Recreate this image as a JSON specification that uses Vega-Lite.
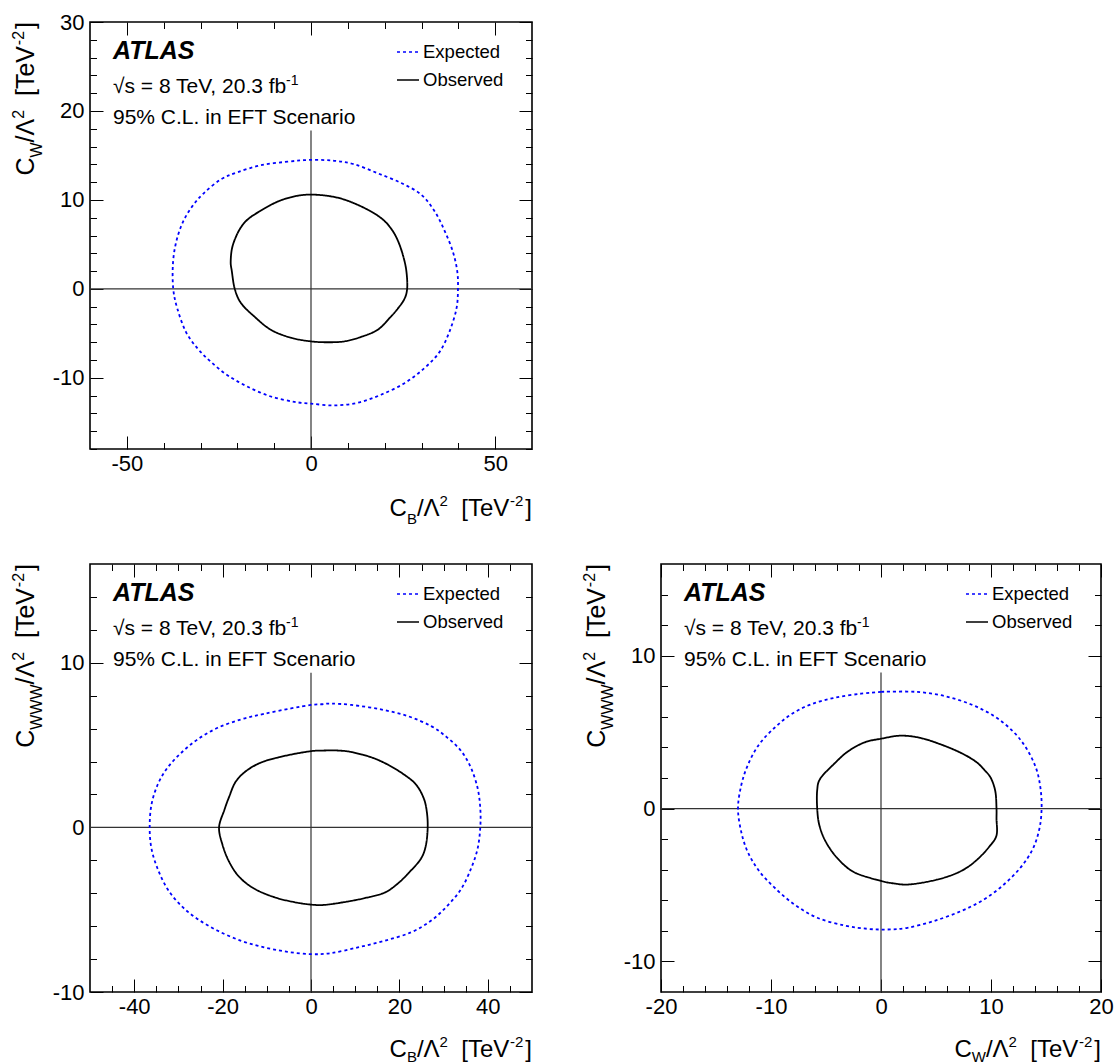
{
  "$schema": "https://vega.github.io/schema/vega-lite/v6.json",
  "background": "white",
  "padding": {"left": 10, "top": 10, "right": 5, "bottom": 5},
  "config": {
    "view": {"stroke": "#000", "strokeWidth": 1.6},
    "axis": {"domain": false, "grid": false, "tickColor": "#000", "tickWidth": 1, "labelFont": "Liberation Sans", "labelColor": "#000", "labelFontSize": 22, "labelFlush": false, "labelOverlap": false, "labelBound": false},
    "text": {"font": "Liberation Sans", "color": "#000", "align": "left", "baseline": "alphabetic"}
  },
  "spacing": 115,
  "bounds": "flush",
  "resolve": {"scale": {"x": "independent", "y": "independent", "color": "independent", "strokeDash": "independent"}, "legend": {"color": "independent", "strokeDash": "independent"}},
  "vconcat": [
    {
      "width": 442, "height": 427,
      "data": {"values": [{}]},
      "layer": [
        {"mark": {"type": "rule", "color": "#333", "strokeWidth": 1.2},
         "encoding": {
           "x": {"datum": 0, "type": "quantitative", "scale": {"domain": [-60, 60], "nice": false, "zero": false}, "axis": {"orient": "bottom", "values": [-40,-30,-20,-10,10,20,30,40], "tickSize": -6.5, "labels": false, "title": null}},
           "y": {"datum": 17.8, "type": "quantitative", "scale": {"domain": [-18, 30], "nice": false, "zero": false}, "axis": {"orient": "left", "values": [-18,-16,-14,-12,-8,-6,-4,-2,2,4,6,8,12,14,16,18,22,24,26,28], "tickSize": -6.5, "labels": false, "title": null}},
           "y2": {"datum": -18}
         }},
        {"mark": {"type": "rule", "color": "#333", "strokeWidth": 1.2},
         "encoding": {
           "x": {"datum": -60, "type": "quantitative", "axis": {"orient": "top", "values": [-50,0,50], "tickSize": -13, "labels": false, "title": null}},
           "x2": {"datum": 60},
           "y": {"datum": 0, "type": "quantitative", "axis": {"orient": "right", "values": [-10,0,10,20,30], "tickSize": -13, "labels": false, "title": null}}
         }},
        {"data": {"values": [
          {"s":"Expected","i":0,"x":0,"y":14.5},{"s":"Expected","i":1,"x":-6.3,"y":14.3},{"s":"Expected","i":2,"x":-13.6,"y":13.9},{"s":"Expected","i":3,"x":-20.0,"y":13.1},{"s":"Expected","i":4,"x":-24.5,"y":12.3},{"s":"Expected","i":5,"x":-29.0,"y":10.8},{"s":"Expected","i":6,"x":-32.2,"y":9.3},{"s":"Expected","i":7,"x":-34.9,"y":7.4},{"s":"Expected","i":8,"x":-36.7,"y":5.1},{"s":"Expected","i":9,"x":-37.5,"y":2.7},{"s":"Expected","i":10,"x":-37.4,"y":0},{"s":"Expected","i":11,"x":-36.3,"y":-2.2},{"s":"Expected","i":12,"x":-34.0,"y":-4.8},{"s":"Expected","i":13,"x":-30.8,"y":-6.7},{"s":"Expected","i":14,"x":-27.2,"y":-8.2},{"s":"Expected","i":15,"x":-22.7,"y":-9.7},{"s":"Expected","i":16,"x":-17.2,"y":-11.0},{"s":"Expected","i":17,"x":-10.9,"y":-12.1},{"s":"Expected","i":18,"x":-4.5,"y":-12.7},{"s":"Expected","i":19,"x":0,"y":-12.9},{"s":"Expected","i":20,"x":6.3,"y":-13.1},{"s":"Expected","i":21,"x":12.7,"y":-12.8},{"s":"Expected","i":22,"x":19.0,"y":-11.9},{"s":"Expected","i":23,"x":25.4,"y":-10.6},{"s":"Expected","i":24,"x":30.8,"y":-8.9},{"s":"Expected","i":25,"x":34.9,"y":-7.1},{"s":"Expected","i":26,"x":37.6,"y":-4.8},{"s":"Expected","i":27,"x":39.5,"y":-2.2},{"s":"Expected","i":28,"x":39.9,"y":0},{"s":"Expected","i":29,"x":39.7,"y":2.0},{"s":"Expected","i":30,"x":38.5,"y":4.2},{"s":"Expected","i":31,"x":36.3,"y":6.5},{"s":"Expected","i":32,"x":33.6,"y":8.7},{"s":"Expected","i":33,"x":29.9,"y":10.6},{"s":"Expected","i":34,"x":24.5,"y":11.9},{"s":"Expected","i":35,"x":18.1,"y":13.0},{"s":"Expected","i":36,"x":11.8,"y":14.0},{"s":"Expected","i":37,"x":6.3,"y":14.4},
          {"s":"Observed","i":0,"x":0,"y":10.6},{"s":"Observed","i":1,"x":5.4,"y":10.4},{"s":"Observed","i":2,"x":10.0,"y":9.9},{"s":"Observed","i":3,"x":15.4,"y":8.9},{"s":"Observed","i":4,"x":19.5,"y":7.8},{"s":"Observed","i":5,"x":22.2,"y":6.5},{"s":"Observed","i":6,"x":24.0,"y":5.0},{"s":"Observed","i":7,"x":25.4,"y":3.1},{"s":"Observed","i":8,"x":26.0,"y":1.6},{"s":"Observed","i":9,"x":26.1,"y":0},{"s":"Observed","i":10,"x":25.4,"y":-1.1},{"s":"Observed","i":11,"x":23.6,"y":-2.2},{"s":"Observed","i":12,"x":21.3,"y":-3.3},{"s":"Observed","i":13,"x":18.1,"y":-4.6},{"s":"Observed","i":14,"x":13.6,"y":-5.4},{"s":"Observed","i":15,"x":9.1,"y":-5.9},{"s":"Observed","i":16,"x":4.5,"y":-6.0},{"s":"Observed","i":17,"x":0,"y":-5.9},{"s":"Observed","i":18,"x":-5.4,"y":-5.5},{"s":"Observed","i":19,"x":-10.9,"y":-4.6},{"s":"Observed","i":20,"x":-15.4,"y":-3.1},{"s":"Observed","i":21,"x":-19.0,"y":-1.6},{"s":"Observed","i":22,"x":-20.7,"y":0},{"s":"Observed","i":23,"x":-21.5,"y":2.0},{"s":"Observed","i":24,"x":-21.8,"y":3.1},{"s":"Observed","i":25,"x":-21.3,"y":4.8},{"s":"Observed","i":26,"x":-19.5,"y":6.6},{"s":"Observed","i":27,"x":-17.2,"y":7.8},{"s":"Observed","i":28,"x":-13.6,"y":8.8},{"s":"Observed","i":29,"x":-9.1,"y":9.8},{"s":"Observed","i":30,"x":-4.5,"y":10.4}
         ]},
         "mark": {"type": "line", "strokeWidth": 1.8, "interpolate": "cardinal-closed"},
         "encoding": {
           "x": {"field": "x", "type": "quantitative", "axis": {"orient": "bottom", "values": [-50,0,50], "tickSize": -13, "labelPadding": 17.5, "labelExpr": "'' + datum.value", "title": null}},
           "y": {"field": "y", "type": "quantitative", "axis": {"orient": "left", "values": [-10,0,10,20,30], "tickSize": -13, "labelPadding": 19, "labelExpr": "'' + datum.value", "title": null}},
           "order": {"field": "i", "type": "quantitative"},
           "color": {"field": "s", "type": "nominal", "scale": {"domain": ["Expected","Observed"], "range": ["#0000ff","#000000"]}, "legend": {"orient": "none", "legendX": 306, "legendY": 18, "title": null, "labelFont": "Liberation Sans", "labelFontSize": 18.5, "labelColor": "#000", "symbolSize": 484, "symbolStrokeWidth": 1.6, "labelOffset": 3, "rowPadding": 6, "padding": 0, "symbolType": "stroke"}},
           "strokeDash": {"field": "s", "type": "nominal", "scale": {"domain": ["Expected","Observed"], "range": [[3,3],[1,0]]}, "legend": {"orient": "none", "legendX": 306, "legendY": 18, "title": null, "labelFont": "Liberation Sans", "labelFontSize": 18.5, "labelColor": "#000", "symbolSize": 484, "symbolStrokeWidth": 1.6, "labelOffset": 3, "rowPadding": 6, "padding": 0, "symbolType": "stroke"}}
         }},
        {"mark": {"type": "text", "text": "ATLAS", "dx": 23, "dy": 37, "fontSize": 25, "fontWeight": "bold", "fontStyle": "italic"},
         "encoding": {"x": {"datum": -60, "type": "quantitative", "axis": {"orient": "top", "values": [-40,-30,-20,-10,10,20,30,40], "tickSize": -6.5, "labels": false, "title": null}}, "y": {"datum": 30, "type": "quantitative", "axis": {"orient": "right", "values": [-18,-16,-14,-12,-8,-6,-4,-2,2,4,6,8,12,14,16,18,22,24,26,28], "tickSize": -6.5, "labels": false, "title": null}}}},
        {"mark": {"type": "text", "text": "√s = 8 TeV, 20.3 fb", "dx": 23, "dy": 71, "fontSize": 21}, "encoding": {"x": {"datum": -60, "type": "quantitative", "axis": null}, "y": {"datum": 30, "type": "quantitative", "axis": null}}},
        {"mark": {"type": "text", "text": "-1", "dx": 196, "dy": 63, "fontSize": 14}, "encoding": {"x": {"datum": -60, "type": "quantitative", "axis": null}, "y": {"datum": 30, "type": "quantitative", "axis": null}}},
        {"mark": {"type": "text", "text": "95% C.L. in EFT Scenario", "dx": 23, "dy": 101.5, "fontSize": 21}, "encoding": {"x": {"datum": -60, "type": "quantitative", "axis": null}, "y": {"datum": 30, "type": "quantitative", "axis": null}}},
        {"mark": {"type": "text", "text": "C", "dx": -142.4, "dy": 67, "fontSize": 24}, "encoding": {"x": {"datum": 60, "type": "quantitative", "axis": null}, "y": {"datum": -18, "type": "quantitative", "axis": null}}},
        {"mark": {"type": "text", "text": "B", "dx": -125.1, "dy": 75, "fontSize": 15}, "encoding": {"x": {"datum": 60, "type": "quantitative", "axis": null}, "y": {"datum": -18, "type": "quantitative", "axis": null}}},
        {"mark": {"type": "text", "text": "/Λ", "dx": -115.1, "dy": 67, "fontSize": 24}, "encoding": {"x": {"datum": 60, "type": "quantitative", "axis": null}, "y": {"datum": -18, "type": "quantitative", "axis": null}}},
        {"mark": {"type": "text", "text": "2", "dx": -92.4, "dy": 57, "fontSize": 15}, "encoding": {"x": {"datum": 60, "type": "quantitative", "axis": null}, "y": {"datum": -18, "type": "quantitative", "axis": null}}},
        {"mark": {"type": "text", "text": "[TeV", "dx": -70.7, "dy": 67, "fontSize": 24}, "encoding": {"x": {"datum": 60, "type": "quantitative", "axis": null}, "y": {"datum": -18, "type": "quantitative", "axis": null}}},
        {"mark": {"type": "text", "text": "-2", "dx": -22.0, "dy": 57, "fontSize": 15}, "encoding": {"x": {"datum": 60, "type": "quantitative", "axis": null}, "y": {"datum": -18, "type": "quantitative", "axis": null}}},
        {"mark": {"type": "text", "text": "]", "dx": -6.7, "dy": 67, "fontSize": 24}, "encoding": {"x": {"datum": 60, "type": "quantitative", "axis": null}, "y": {"datum": -18, "type": "quantitative", "axis": null}}},
        {"mark": {"type": "text", "text": "C", "angle": 270, "dx": -153.6, "dy": -56, "fontSize": 25}, "encoding": {"x": {"datum": -60, "type": "quantitative", "axis": null}, "y": {"datum": 30, "type": "quantitative", "axis": null}}},
        {"mark": {"type": "text", "text": "W", "angle": 270, "dx": -135.5, "dy": -48, "fontSize": 16}, "encoding": {"x": {"datum": -60, "type": "quantitative", "axis": null}, "y": {"datum": 30, "type": "quantitative", "axis": null}}},
        {"mark": {"type": "text", "text": "/Λ", "angle": 270, "dx": -120.4, "dy": -56, "fontSize": 25}, "encoding": {"x": {"datum": -60, "type": "quantitative", "axis": null}, "y": {"datum": 30, "type": "quantitative", "axis": null}}},
        {"mark": {"type": "text", "text": "2", "angle": 270, "dx": -96.8, "dy": -66, "fontSize": 16}, "encoding": {"x": {"datum": -60, "type": "quantitative", "axis": null}, "y": {"datum": 30, "type": "quantitative", "axis": null}}},
        {"mark": {"type": "text", "text": "[TeV", "angle": 270, "dx": -74.0, "dy": -56, "fontSize": 25}, "encoding": {"x": {"datum": -60, "type": "quantitative", "axis": null}, "y": {"datum": 30, "type": "quantitative", "axis": null}}},
        {"mark": {"type": "text", "text": "-2", "angle": 270, "dx": -23.2, "dy": -66, "fontSize": 16}, "encoding": {"x": {"datum": -60, "type": "quantitative", "axis": null}, "y": {"datum": 30, "type": "quantitative", "axis": null}}},
        {"mark": {"type": "text", "text": "]", "angle": 270, "dx": -7.0, "dy": -56, "fontSize": 25}, "encoding": {"x": {"datum": -60, "type": "quantitative", "axis": null}, "y": {"datum": 30, "type": "quantitative", "axis": null}}}
      ],
      "resolve": {"axis": {"x": "independent", "y": "independent"}}
    },
    {
      "spacing": 129,
      "bounds": "flush",
      "resolve": {"scale": {"x": "independent", "y": "independent", "color": "independent", "strokeDash": "independent"}, "legend": {"color": "independent", "strokeDash": "independent"}},
      "hconcat": [
        {
          "width": 442, "height": 428,
          "data": {"values": [{}]},
          "layer": [
            {"mark": {"type": "rule", "color": "#333", "strokeWidth": 1.2},
             "encoding": {
               "x": {"datum": 0, "type": "quantitative", "scale": {"domain": [-50, 50], "nice": false, "zero": false}, "axis": {"orient": "bottom", "values": [-45,-35,-30,-25,-15,-10,-5,5,10,15,25,30,35,45], "tickSize": -6.5, "labels": false, "title": null}},
               "y": {"datum": 9.4, "type": "quantitative", "scale": {"domain": [-10, 16], "nice": false, "zero": false}, "axis": {"orient": "left", "values": [-8,-6,-4,-2,2,4,6,8,12,14], "tickSize": -6.5, "labels": false, "title": null}},
               "y2": {"datum": -10}
             }},
            {"mark": {"type": "rule", "color": "#333", "strokeWidth": 1.2},
             "encoding": {
               "x": {"datum": -50, "type": "quantitative", "axis": {"orient": "top", "values": [-40,-20,0,20,40], "tickSize": -13, "labels": false, "title": null}},
               "x2": {"datum": 50},
               "y": {"datum": 0, "type": "quantitative", "axis": {"orient": "right", "values": [-10,0,10], "tickSize": -13, "labels": false, "title": null}}
             }},
            {"data": {"values": [
              {"s":"Expected","i":0,"x":2.3,"y":7.48},{"s":"Expected","i":1,"x":0,"y":7.44},{"s":"Expected","i":2,"x":-4.5,"y":7.23},{"s":"Expected","i":3,"x":-10.6,"y":6.9},{"s":"Expected","i":4,"x":-15.8,"y":6.56},{"s":"Expected","i":5,"x":-21.1,"y":6.05},{"s":"Expected","i":6,"x":-25.7,"y":5.34},{"s":"Expected","i":7,"x":-29.4,"y":4.52},{"s":"Expected","i":8,"x":-32.5,"y":3.61},{"s":"Expected","i":9,"x":-34.7,"y":2.59},{"s":"Expected","i":10,"x":-36.1,"y":1.37},{"s":"Expected","i":11,"x":-36.5,"y":0},{"s":"Expected","i":12,"x":-36.1,"y":-1.28},{"s":"Expected","i":13,"x":-34.7,"y":-2.51},{"s":"Expected","i":14,"x":-32.5,"y":-3.73},{"s":"Expected","i":15,"x":-29.4,"y":-4.75},{"s":"Expected","i":16,"x":-25.7,"y":-5.56},{"s":"Expected","i":17,"x":-21.1,"y":-6.28},{"s":"Expected","i":18,"x":-15.8,"y":-6.89},{"s":"Expected","i":19,"x":-10.6,"y":-7.29},{"s":"Expected","i":20,"x":-5.3,"y":-7.56},{"s":"Expected","i":21,"x":0,"y":-7.7},{"s":"Expected","i":22,"x":4.5,"y":-7.64},{"s":"Expected","i":23,"x":10.6,"y":-7.29},{"s":"Expected","i":24,"x":16.6,"y":-6.89},{"s":"Expected","i":25,"x":22.6,"y":-6.38},{"s":"Expected","i":26,"x":27.2,"y":-5.66},{"s":"Expected","i":27,"x":30.9,"y":-4.75},{"s":"Expected","i":28,"x":34.0,"y":-3.73},{"s":"Expected","i":29,"x":36.2,"y":-2.51},{"s":"Expected","i":30,"x":37.7,"y":-1.28},{"s":"Expected","i":31,"x":38.3,"y":0},{"s":"Expected","i":32,"x":38.3,"y":1.16},{"s":"Expected","i":33,"x":37.7,"y":2.38},{"s":"Expected","i":34,"x":36.2,"y":3.61},{"s":"Expected","i":35,"x":34.0,"y":4.63},{"s":"Expected","i":36,"x":30.9,"y":5.44},{"s":"Expected","i":37,"x":27.2,"y":6.15},{"s":"Expected","i":38,"x":21.9,"y":6.76},{"s":"Expected","i":39,"x":15.8,"y":7.17},{"s":"Expected","i":40,"x":9.1,"y":7.44},{"s":"Expected","i":41,"x":4.5,"y":7.52},
              {"s":"Observed","i":0,"x":3.0,"y":4.67},{"s":"Observed","i":1,"x":0,"y":4.63},{"s":"Observed","i":2,"x":-5.3,"y":4.38},{"s":"Observed","i":3,"x":-10.6,"y":4.01},{"s":"Observed","i":4,"x":-14.3,"y":3.5},{"s":"Observed","i":5,"x":-17.0,"y":2.79},{"s":"Observed","i":6,"x":-18.5,"y":1.87},{"s":"Observed","i":7,"x":-19.6,"y":1.06},{"s":"Observed","i":8,"x":-20.8,"y":0},{"s":"Observed","i":9,"x":-20.0,"y":-1.08},{"s":"Observed","i":10,"x":-18.5,"y":-2.1},{"s":"Observed","i":11,"x":-16.2,"y":-3.02},{"s":"Observed","i":12,"x":-12.8,"y":-3.73},{"s":"Observed","i":13,"x":-8.3,"y":-4.24},{"s":"Observed","i":14,"x":-3.8,"y":-4.54},{"s":"Observed","i":15,"x":0,"y":-4.69},{"s":"Observed","i":16,"x":3.0,"y":-4.71},{"s":"Observed","i":17,"x":7.5,"y":-4.54},{"s":"Observed","i":18,"x":12.1,"y":-4.3},{"s":"Observed","i":19,"x":16.6,"y":-3.97},{"s":"Observed","i":20,"x":19.6,"y":-3.42},{"s":"Observed","i":21,"x":22.3,"y":-2.71},{"s":"Observed","i":22,"x":24.9,"y":-1.89},{"s":"Observed","i":23,"x":26.0,"y":-1.08},{"s":"Observed","i":24,"x":26.4,"y":0},{"s":"Observed","i":25,"x":26.2,"y":0.96},{"s":"Observed","i":26,"x":25.5,"y":1.77},{"s":"Observed","i":27,"x":23.8,"y":2.59},{"s":"Observed","i":28,"x":21.1,"y":3.2},{"s":"Observed","i":29,"x":17.4,"y":3.81},{"s":"Observed","i":30,"x":13.6,"y":4.26},{"s":"Observed","i":31,"x":9.1,"y":4.58},{"s":"Observed","i":32,"x":6.0,"y":4.67}
             ]},
             "mark": {"type": "line", "strokeWidth": 1.8, "interpolate": "cardinal-closed"},
             "encoding": {
               "x": {"field": "x", "type": "quantitative", "axis": {"orient": "bottom", "values": [-40,-20,0,20,40], "tickSize": -13, "labelPadding": 17.5, "labelExpr": "'' + datum.value", "title": null}},
               "y": {"field": "y", "type": "quantitative", "axis": {"orient": "left", "values": [-10,0,10], "tickSize": -13, "labelPadding": 19, "labelExpr": "'' + datum.value", "title": null}},
               "order": {"field": "i", "type": "quantitative"},
               "color": {"field": "s", "type": "nominal", "scale": {"domain": ["Expected","Observed"], "range": ["#0000ff","#000000"]}, "legend": {"orient": "none", "legendX": 306, "legendY": 18, "title": null, "labelFont": "Liberation Sans", "labelFontSize": 18.5, "labelColor": "#000", "symbolSize": 484, "symbolStrokeWidth": 1.6, "labelOffset": 3, "rowPadding": 6, "padding": 0, "symbolType": "stroke"}},
               "strokeDash": {"field": "s", "type": "nominal", "scale": {"domain": ["Expected","Observed"], "range": [[3,3],[1,0]]}, "legend": {"orient": "none", "legendX": 306, "legendY": 18, "title": null, "labelFont": "Liberation Sans", "labelFontSize": 18.5, "labelColor": "#000", "symbolSize": 484, "symbolStrokeWidth": 1.6, "labelOffset": 3, "rowPadding": 6, "padding": 0, "symbolType": "stroke"}}
             }},
            {"mark": {"type": "text", "text": "ATLAS", "dx": 23, "dy": 37, "fontSize": 25, "fontWeight": "bold", "fontStyle": "italic"},
             "encoding": {"x": {"datum": -50, "type": "quantitative", "axis": {"orient": "top", "values": [-45,-35,-30,-25,-15,-10,-5,5,10,15,25,30,35,45], "tickSize": -6.5, "labels": false, "title": null}}, "y": {"datum": 16, "type": "quantitative", "axis": {"orient": "right", "values": [-8,-6,-4,-2,2,4,6,8,12,14], "tickSize": -6.5, "labels": false, "title": null}}}},
            {"mark": {"type": "text", "text": "√s = 8 TeV, 20.3 fb", "dx": 23, "dy": 71, "fontSize": 21}, "encoding": {"x": {"datum": -50, "type": "quantitative", "axis": null}, "y": {"datum": 16, "type": "quantitative", "axis": null}}},
            {"mark": {"type": "text", "text": "-1", "dx": 196, "dy": 63, "fontSize": 14}, "encoding": {"x": {"datum": -50, "type": "quantitative", "axis": null}, "y": {"datum": 16, "type": "quantitative", "axis": null}}},
            {"mark": {"type": "text", "text": "95% C.L. in EFT Scenario", "dx": 23, "dy": 101.5, "fontSize": 21}, "encoding": {"x": {"datum": -50, "type": "quantitative", "axis": null}, "y": {"datum": 16, "type": "quantitative", "axis": null}}},
            {"mark": {"type": "text", "text": "C", "dx": -142.4, "dy": 65, "fontSize": 24}, "encoding": {"x": {"datum": 50, "type": "quantitative", "axis": null}, "y": {"datum": -10, "type": "quantitative", "axis": null}}},
            {"mark": {"type": "text", "text": "B", "dx": -125.1, "dy": 70, "fontSize": 15}, "encoding": {"x": {"datum": 50, "type": "quantitative", "axis": null}, "y": {"datum": -10, "type": "quantitative", "axis": null}}},
            {"mark": {"type": "text", "text": "/Λ", "dx": -115.1, "dy": 65, "fontSize": 24}, "encoding": {"x": {"datum": 50, "type": "quantitative", "axis": null}, "y": {"datum": -10, "type": "quantitative", "axis": null}}},
            {"mark": {"type": "text", "text": "2", "dx": -92.4, "dy": 55, "fontSize": 15}, "encoding": {"x": {"datum": 50, "type": "quantitative", "axis": null}, "y": {"datum": -10, "type": "quantitative", "axis": null}}},
            {"mark": {"type": "text", "text": "[TeV", "dx": -70.7, "dy": 65, "fontSize": 24}, "encoding": {"x": {"datum": 50, "type": "quantitative", "axis": null}, "y": {"datum": -10, "type": "quantitative", "axis": null}}},
            {"mark": {"type": "text", "text": "-2", "dx": -22.0, "dy": 55, "fontSize": 15}, "encoding": {"x": {"datum": 50, "type": "quantitative", "axis": null}, "y": {"datum": -10, "type": "quantitative", "axis": null}}},
            {"mark": {"type": "text", "text": "]", "dx": -6.7, "dy": 65, "fontSize": 24}, "encoding": {"x": {"datum": 50, "type": "quantitative", "axis": null}, "y": {"datum": -10, "type": "quantitative", "axis": null}}},
            {"mark": {"type": "text", "text": "C", "angle": 270, "dx": -183.8, "dy": -56, "fontSize": 25}, "encoding": {"x": {"datum": -50, "type": "quantitative", "axis": null}, "y": {"datum": 16, "type": "quantitative", "axis": null}}},
            {"mark": {"type": "text", "text": "WWW", "angle": 270, "dx": -165.7, "dy": -48, "fontSize": 16}, "encoding": {"x": {"datum": -50, "type": "quantitative", "axis": null}, "y": {"datum": 16, "type": "quantitative", "axis": null}}},
            {"mark": {"type": "text", "text": "/Λ", "angle": 270, "dx": -120.4, "dy": -56, "fontSize": 25}, "encoding": {"x": {"datum": -50, "type": "quantitative", "axis": null}, "y": {"datum": 16, "type": "quantitative", "axis": null}}},
            {"mark": {"type": "text", "text": "2", "angle": 270, "dx": -96.8, "dy": -66, "fontSize": 16}, "encoding": {"x": {"datum": -50, "type": "quantitative", "axis": null}, "y": {"datum": 16, "type": "quantitative", "axis": null}}},
            {"mark": {"type": "text", "text": "[TeV", "angle": 270, "dx": -74.0, "dy": -56, "fontSize": 25}, "encoding": {"x": {"datum": -50, "type": "quantitative", "axis": null}, "y": {"datum": 16, "type": "quantitative", "axis": null}}},
            {"mark": {"type": "text", "text": "-2", "angle": 270, "dx": -23.2, "dy": -66, "fontSize": 16}, "encoding": {"x": {"datum": -50, "type": "quantitative", "axis": null}, "y": {"datum": 16, "type": "quantitative", "axis": null}}},
            {"mark": {"type": "text", "text": "]", "angle": 270, "dx": -7.0, "dy": -56, "fontSize": 25}, "encoding": {"x": {"datum": -50, "type": "quantitative", "axis": null}, "y": {"datum": 16, "type": "quantitative", "axis": null}}}
          ],
          "resolve": {"axis": {"x": "independent", "y": "independent"}}
        },
        {
          "width": 440, "height": 428,
          "data": {"values": [{}]},
          "layer": [
            {"mark": {"type": "rule", "color": "#333", "strokeWidth": 1.2},
             "encoding": {
               "x": {"datum": 0, "type": "quantitative", "scale": {"domain": [-20, 20], "nice": false, "zero": false}, "axis": {"orient": "bottom", "values": [-18,-16,-14,-12,-8,-6,-4,-2,2,4,6,8,12,14,16,18], "tickSize": -6.5, "labels": false, "title": null}},
               "y": {"datum": 8.9, "type": "quantitative", "scale": {"domain": [-12, 16], "nice": false, "zero": false}, "axis": {"orient": "left", "values": [-8,-6,-4,-2,2,4,6,8,12,14], "tickSize": -6.5, "labels": false, "title": null}},
               "y2": {"datum": -12}
             }},
            {"mark": {"type": "rule", "color": "#333", "strokeWidth": 1.2},
             "encoding": {
               "x": {"datum": -20, "type": "quantitative", "axis": {"orient": "top", "values": [-20,-10,0,10,20], "tickSize": -13, "labels": false, "title": null}},
               "x2": {"datum": 20},
               "y": {"datum": 0, "type": "quantitative", "axis": {"orient": "right", "values": [-10,0,10], "tickSize": -13, "labels": false, "title": null}}
             }},
            {"data": {"values": [
              {"s":"Expected","i":0,"x":0.76,"y":7.65},{"s":"Expected","i":1,"x":0,"y":7.63},{"s":"Expected","i":2,"x":-1.8,"y":7.52},{"s":"Expected","i":3,"x":-4.2,"y":7.25},{"s":"Expected","i":4,"x":-6.4,"y":6.81},{"s":"Expected","i":5,"x":-8.2,"y":6.15},{"s":"Expected","i":6,"x":-9.7,"y":5.27},{"s":"Expected","i":7,"x":-11.1,"y":4.18},{"s":"Expected","i":8,"x":-12.1,"y":2.86},{"s":"Expected","i":9,"x":-12.7,"y":1.54},{"s":"Expected","i":10,"x":-13.0,"y":0},{"s":"Expected","i":11,"x":-12.7,"y":-1.54},{"s":"Expected","i":12,"x":-12.1,"y":-2.86},{"s":"Expected","i":13,"x":-11.1,"y":-4.07},{"s":"Expected","i":14,"x":-9.7,"y":-5.16},{"s":"Expected","i":15,"x":-7.9,"y":-6.26},{"s":"Expected","i":16,"x":-5.8,"y":-7.14},{"s":"Expected","i":17,"x":-3.3,"y":-7.65},{"s":"Expected","i":18,"x":-1.2,"y":-7.87},{"s":"Expected","i":19,"x":0.6,"y":-7.91},{"s":"Expected","i":20,"x":2.4,"y":-7.8},{"s":"Expected","i":21,"x":4.8,"y":-7.36},{"s":"Expected","i":22,"x":7.3,"y":-6.7},{"s":"Expected","i":23,"x":9.4,"y":-5.93},{"s":"Expected","i":24,"x":11.2,"y":-4.95},{"s":"Expected","i":25,"x":12.7,"y":-3.85},{"s":"Expected","i":26,"x":13.8,"y":-2.64},{"s":"Expected","i":27,"x":14.4,"y":-1.32},{"s":"Expected","i":28,"x":14.6,"y":0},{"s":"Expected","i":29,"x":14.5,"y":1.32},{"s":"Expected","i":30,"x":14.1,"y":2.64},{"s":"Expected","i":31,"x":13.2,"y":3.96},{"s":"Expected","i":32,"x":12.0,"y":5.05},{"s":"Expected","i":33,"x":10.3,"y":6.04},{"s":"Expected","i":34,"x":8.2,"y":6.81},{"s":"Expected","i":35,"x":5.8,"y":7.36},{"s":"Expected","i":36,"x":3.3,"y":7.63},
              {"s":"Observed","i":0,"x":1.8,"y":4.77},{"s":"Observed","i":1,"x":0,"y":4.57},{"s":"Observed","i":2,"x":-1.5,"y":4.33},{"s":"Observed","i":3,"x":-3.0,"y":3.74},{"s":"Observed","i":4,"x":-4.2,"y":2.97},{"s":"Observed","i":5,"x":-5.5,"y":1.98},{"s":"Observed","i":6,"x":-5.8,"y":1.21},{"s":"Observed","i":7,"x":-5.8,"y":0},{"s":"Observed","i":8,"x":-5.6,"y":-1.1},{"s":"Observed","i":9,"x":-5.0,"y":-2.2},{"s":"Observed","i":10,"x":-3.9,"y":-3.3},{"s":"Observed","i":11,"x":-2.4,"y":-4.18},{"s":"Observed","i":12,"x":0,"y":-4.73},{"s":"Observed","i":13,"x":1.2,"y":-4.9},{"s":"Observed","i":14,"x":2.4,"y":-4.97},{"s":"Observed","i":15,"x":4.2,"y":-4.79},{"s":"Observed","i":16,"x":6.1,"y":-4.44},{"s":"Observed","i":17,"x":7.6,"y":-3.96},{"s":"Observed","i":18,"x":8.8,"y":-3.3},{"s":"Observed","i":19,"x":9.8,"y":-2.53},{"s":"Observed","i":20,"x":10.5,"y":-1.76},{"s":"Observed","i":21,"x":10.5,"y":-0.66},{"s":"Observed","i":22,"x":10.5,"y":0},{"s":"Observed","i":23,"x":10.4,"y":1.1},{"s":"Observed","i":24,"x":10.0,"y":1.98},{"s":"Observed","i":25,"x":9.4,"y":2.53},{"s":"Observed","i":26,"x":8.6,"y":3.08},{"s":"Observed","i":27,"x":7.3,"y":3.63},{"s":"Observed","i":28,"x":5.5,"y":4.18},{"s":"Observed","i":29,"x":3.6,"y":4.62}
             ]},
             "mark": {"type": "line", "strokeWidth": 1.8, "interpolate": "cardinal-closed"},
             "encoding": {
               "x": {"field": "x", "type": "quantitative", "axis": {"orient": "bottom", "values": [-20,-10,0,10,20], "tickSize": -13, "labelPadding": 17.5, "labelExpr": "'' + datum.value", "title": null}},
               "y": {"field": "y", "type": "quantitative", "axis": {"orient": "left", "values": [-10,0,10], "tickSize": -13, "labelPadding": 19, "labelExpr": "'' + datum.value", "title": null}},
               "order": {"field": "i", "type": "quantitative"},
               "color": {"field": "s", "type": "nominal", "scale": {"domain": ["Expected","Observed"], "range": ["#0000ff","#000000"]}, "legend": {"orient": "none", "legendX": 304, "legendY": 18, "title": null, "labelFont": "Liberation Sans", "labelFontSize": 18.5, "labelColor": "#000", "symbolSize": 484, "symbolStrokeWidth": 1.6, "labelOffset": 3, "rowPadding": 6, "padding": 0, "symbolType": "stroke"}},
               "strokeDash": {"field": "s", "type": "nominal", "scale": {"domain": ["Expected","Observed"], "range": [[3,3],[1,0]]}, "legend": {"orient": "none", "legendX": 304, "legendY": 18, "title": null, "labelFont": "Liberation Sans", "labelFontSize": 18.5, "labelColor": "#000", "symbolSize": 484, "symbolStrokeWidth": 1.6, "labelOffset": 3, "rowPadding": 6, "padding": 0, "symbolType": "stroke"}}
             }},
            {"mark": {"type": "text", "text": "ATLAS", "dx": 23, "dy": 37, "fontSize": 25, "fontWeight": "bold", "fontStyle": "italic"},
             "encoding": {"x": {"datum": -20, "type": "quantitative", "axis": {"orient": "top", "values": [-18,-16,-14,-12,-8,-6,-4,-2,2,4,6,8,12,14,16,18], "tickSize": -6.5, "labels": false, "title": null}}, "y": {"datum": 16, "type": "quantitative", "axis": {"orient": "right", "values": [-8,-6,-4,-2,2,4,6,8,12,14], "tickSize": -6.5, "labels": false, "title": null}}}},
            {"mark": {"type": "text", "text": "√s = 8 TeV, 20.3 fb", "dx": 23, "dy": 71, "fontSize": 21}, "encoding": {"x": {"datum": -20, "type": "quantitative", "axis": null}, "y": {"datum": 16, "type": "quantitative", "axis": null}}},
            {"mark": {"type": "text", "text": "-1", "dx": 196, "dy": 63, "fontSize": 14}, "encoding": {"x": {"datum": -20, "type": "quantitative", "axis": null}, "y": {"datum": 16, "type": "quantitative", "axis": null}}},
            {"mark": {"type": "text", "text": "95% C.L. in EFT Scenario", "dx": 23, "dy": 101.5, "fontSize": 21}, "encoding": {"x": {"datum": -20, "type": "quantitative", "axis": null}, "y": {"datum": 16, "type": "quantitative", "axis": null}}},
            {"mark": {"type": "text", "text": "C", "dx": -146.6, "dy": 65, "fontSize": 24}, "encoding": {"x": {"datum": 20, "type": "quantitative", "axis": null}, "y": {"datum": -12, "type": "quantitative", "axis": null}}},
            {"mark": {"type": "text", "text": "W", "dx": -129.2, "dy": 70, "fontSize": 15}, "encoding": {"x": {"datum": 20, "type": "quantitative", "axis": null}, "y": {"datum": -12, "type": "quantitative", "axis": null}}},
            {"mark": {"type": "text", "text": "/Λ", "dx": -115.1, "dy": 65, "fontSize": 24}, "encoding": {"x": {"datum": 20, "type": "quantitative", "axis": null}, "y": {"datum": -12, "type": "quantitative", "axis": null}}},
            {"mark": {"type": "text", "text": "2", "dx": -92.4, "dy": 55, "fontSize": 15}, "encoding": {"x": {"datum": 20, "type": "quantitative", "axis": null}, "y": {"datum": -12, "type": "quantitative", "axis": null}}},
            {"mark": {"type": "text", "text": "[TeV", "dx": -70.7, "dy": 65, "fontSize": 24}, "encoding": {"x": {"datum": 20, "type": "quantitative", "axis": null}, "y": {"datum": -12, "type": "quantitative", "axis": null}}},
            {"mark": {"type": "text", "text": "-2", "dx": -22.0, "dy": 55, "fontSize": 15}, "encoding": {"x": {"datum": 20, "type": "quantitative", "axis": null}, "y": {"datum": -12, "type": "quantitative", "axis": null}}},
            {"mark": {"type": "text", "text": "]", "dx": -6.7, "dy": 65, "fontSize": 24}, "encoding": {"x": {"datum": 20, "type": "quantitative", "axis": null}, "y": {"datum": -12, "type": "quantitative", "axis": null}}},
            {"mark": {"type": "text", "text": "C", "angle": 270, "dx": -183.8, "dy": -56, "fontSize": 25}, "encoding": {"x": {"datum": -20, "type": "quantitative", "axis": null}, "y": {"datum": 16, "type": "quantitative", "axis": null}}},
            {"mark": {"type": "text", "text": "WWW", "angle": 270, "dx": -165.7, "dy": -48, "fontSize": 16}, "encoding": {"x": {"datum": -20, "type": "quantitative", "axis": null}, "y": {"datum": 16, "type": "quantitative", "axis": null}}},
            {"mark": {"type": "text", "text": "/Λ", "angle": 270, "dx": -120.4, "dy": -56, "fontSize": 25}, "encoding": {"x": {"datum": -20, "type": "quantitative", "axis": null}, "y": {"datum": 16, "type": "quantitative", "axis": null}}},
            {"mark": {"type": "text", "text": "2", "angle": 270, "dx": -96.8, "dy": -66, "fontSize": 16}, "encoding": {"x": {"datum": -20, "type": "quantitative", "axis": null}, "y": {"datum": 16, "type": "quantitative", "axis": null}}},
            {"mark": {"type": "text", "text": "[TeV", "angle": 270, "dx": -74.0, "dy": -56, "fontSize": 25}, "encoding": {"x": {"datum": -20, "type": "quantitative", "axis": null}, "y": {"datum": 16, "type": "quantitative", "axis": null}}},
            {"mark": {"type": "text", "text": "-2", "angle": 270, "dx": -23.2, "dy": -66, "fontSize": 16}, "encoding": {"x": {"datum": -20, "type": "quantitative", "axis": null}, "y": {"datum": 16, "type": "quantitative", "axis": null}}},
            {"mark": {"type": "text", "text": "]", "angle": 270, "dx": -7.0, "dy": -56, "fontSize": 25}, "encoding": {"x": {"datum": -20, "type": "quantitative", "axis": null}, "y": {"datum": 16, "type": "quantitative", "axis": null}}}
          ],
          "resolve": {"axis": {"x": "independent", "y": "independent"}}
        }
      ]
    }
  ]
}
